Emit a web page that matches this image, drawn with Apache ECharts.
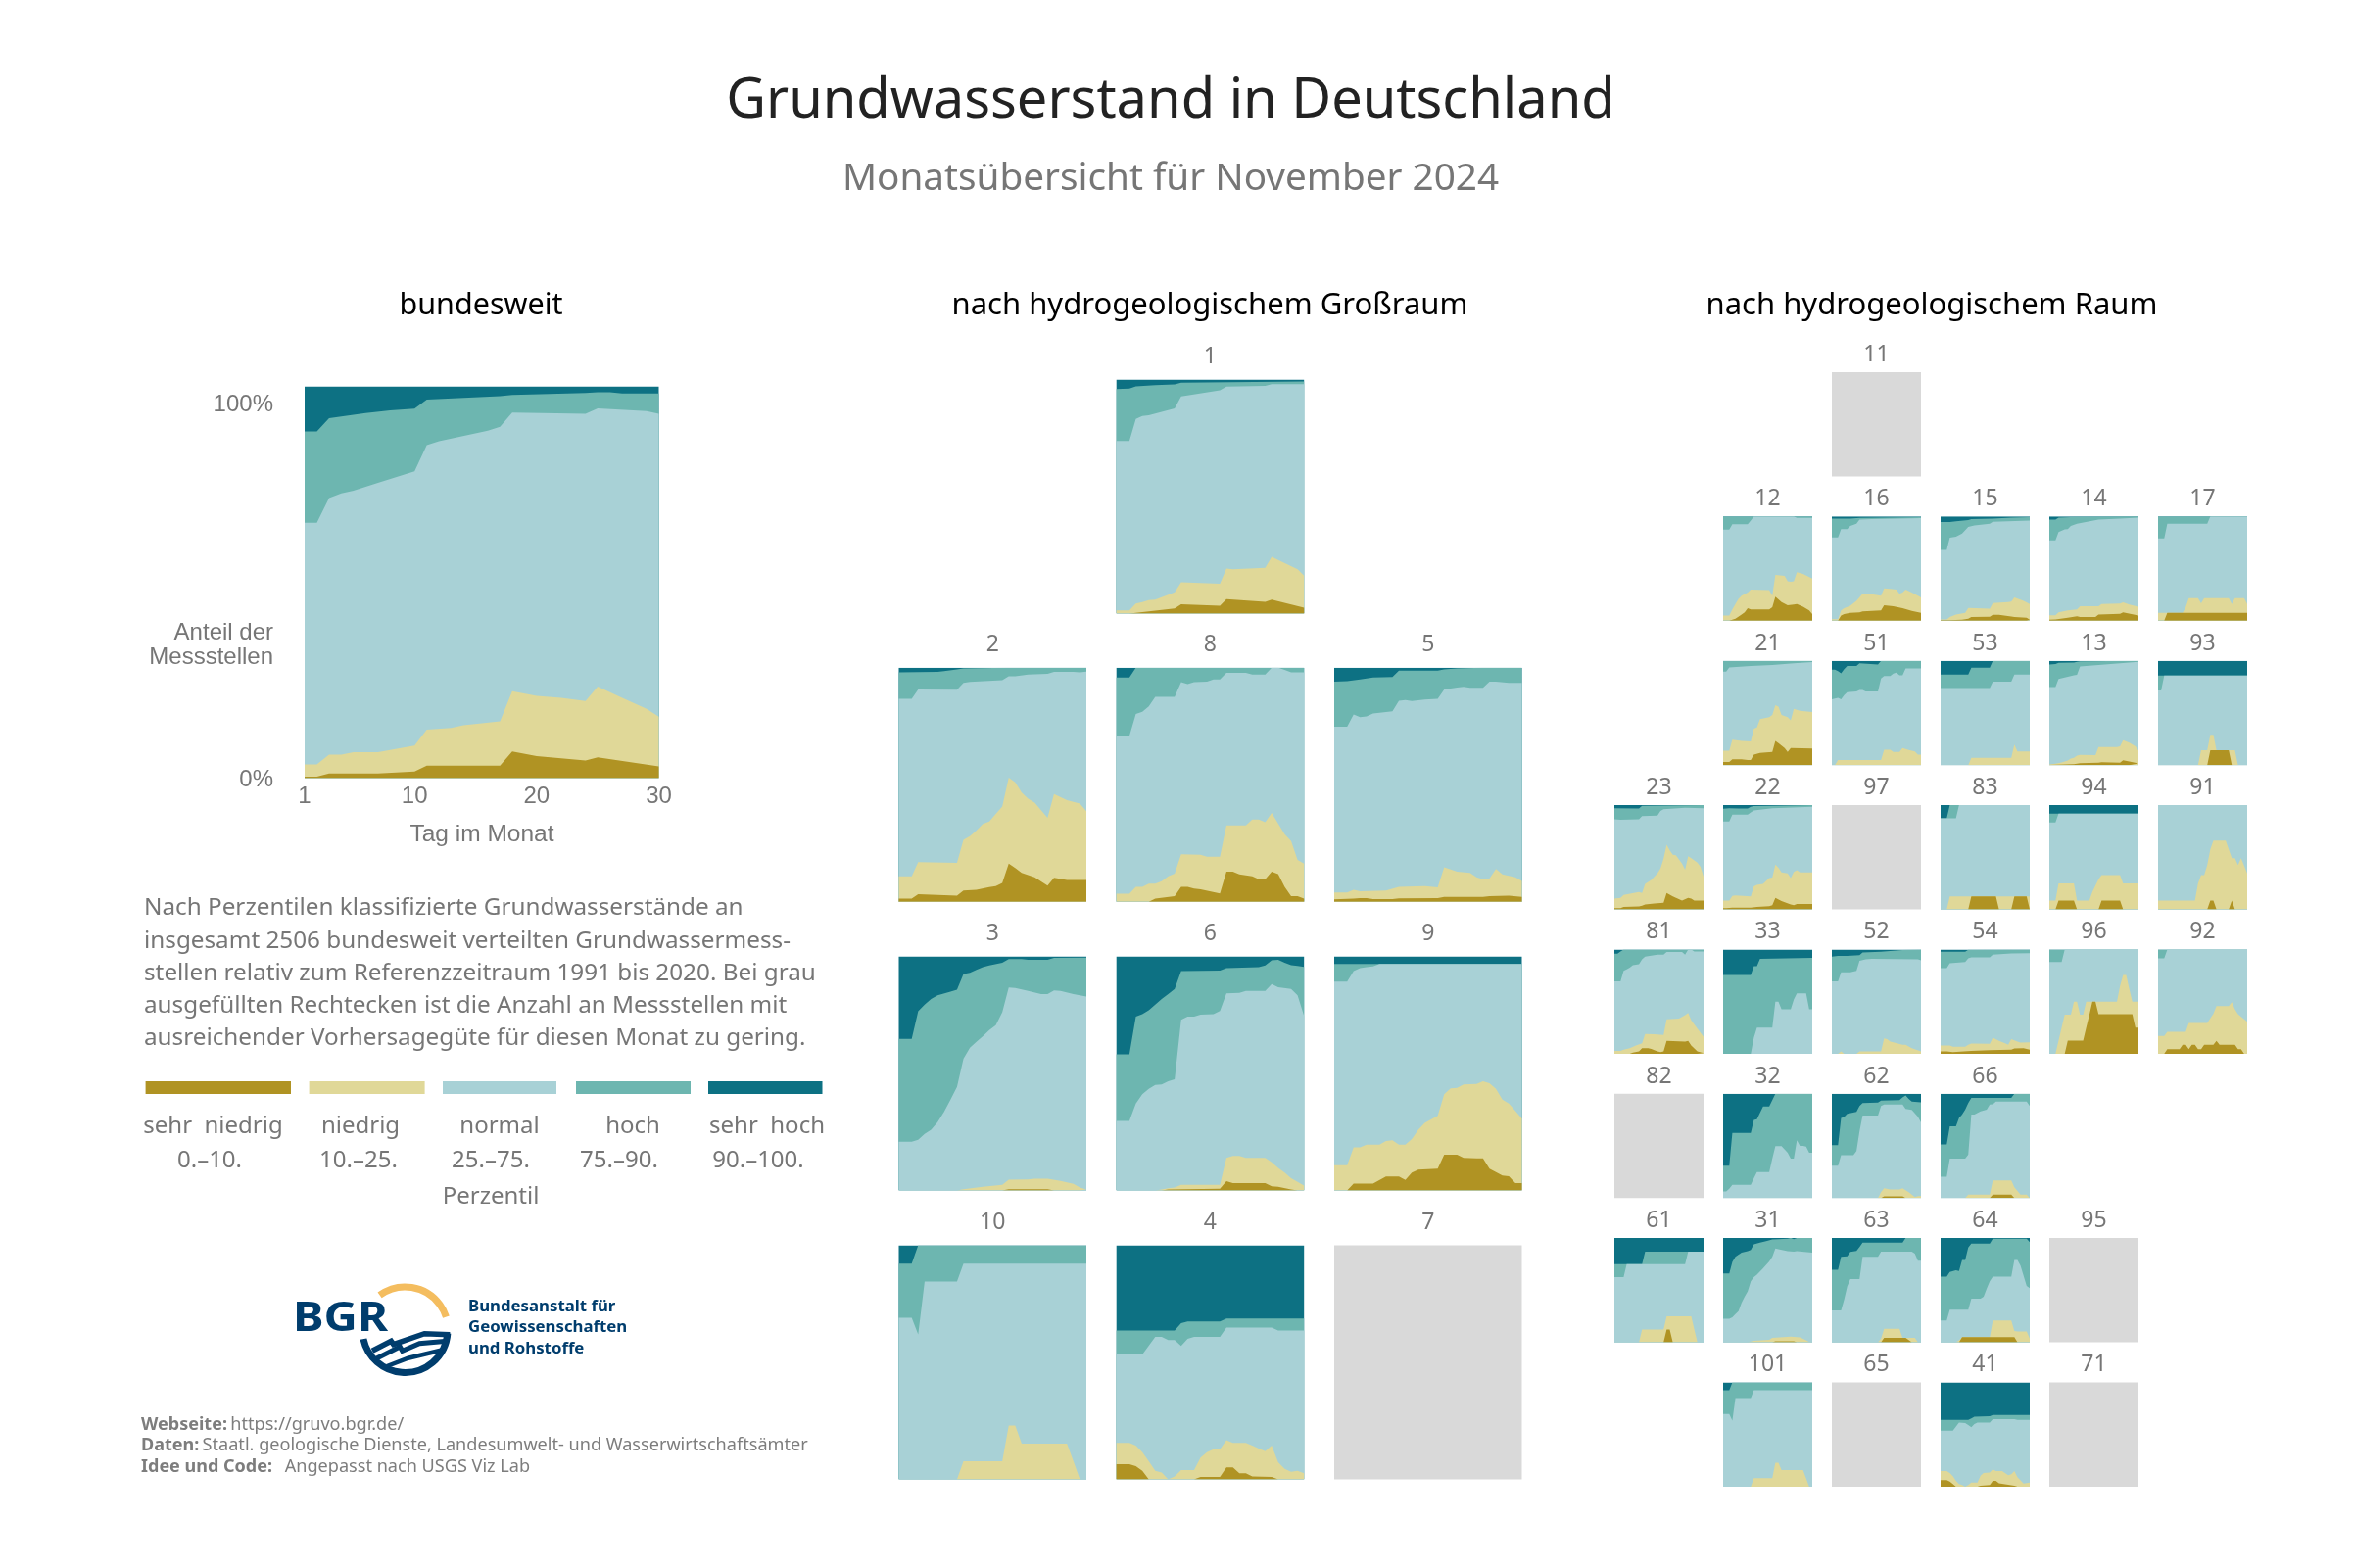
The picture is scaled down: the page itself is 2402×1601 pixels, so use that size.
<!DOCTYPE html>
<html lang="de"><head><meta charset="utf-8"><title>Grundwasserstand in Deutschland</title>
<script src="https://cdn.jsdelivr.net/npm/echarts@6/dist/echarts.min.js"></script>
<style>html,body{margin:0;padding:0;background:#fff}#c{width:2402px;height:1601px}</style></head>
<body><div id="c"></div>
<script>
// Boundaries between the percentile classes as [day, share %, day, share %, ...]
// sn = top of "sehr niedrig", ni = top of "niedrig", no = top of "normal", ho = top of "hoch"
const classNames=['sehr hoch','hoch','normal','niedrig','sehr niedrig'];
const classColors=['#0d7183','#6db6b0','#a8d1d6','#e0d898','#b09323'];
const ZERO=[1,0,30,0], FULL=[1,100,30,100];

const de_sn=[1,.4,2,.4,3,1.2,7,1.2,10,1.7,11,3.2,17,3.2,18,6.8,20,5.6,24,4.5,25,5.3,30,3];
const de_ni=[1,3.5,2,3.5,3,6,4,6,5,6.6,7,6.6,10,8.3,11,12.4,13,12.8,14,13.5,17,14.5,18,22.2,20,21,22,20.5,24,19.7,25,23.4,27,20.5,29,17.7,30,15.7];
const de_no=[1,65.2,2,65.2,3,71.5,4,72.7,5,73.4,7,75.4,10,78.3,11,85,12,86,16,88.7,17,89.7,18,93.3,24,93,25,94.4,29,93.7,30,93];
const de_ho=[1,88.5,2,88.5,3,91.9,4,92.3,6,93.2,8,93.9,10,94.3,11,96.6,17,97.5,18,97.8,24,98.3,25,98.5,26,98.5,27,98.2,30,98.2];

const g1_sn=[1,0,3,0,10,2.2,11,4,17,3.4,18,6.2,24,5.1,25,6,30,2.6];
const g1_ni=[1,1.4,3,1.4,4,4.3,5,5,6,5.8,7,6,10,9.1,11,13.4,17,12.8,18,19.3,19,19,24,19.6,25,24.3,26,23,29,19,30,16.3];
const g1_no=[1,73.8,3,73.8,4,83.2,5,84.5,6,84.8,10,87.7,11,92.8,17,95.4,18,97,24,97.3,25,98.1,30,98.1];
const g1_ho=[1,96,3,96.2,4,97.1,7,97.6,10,97.9,11,98.7,30,99.2];

const g2_sn=[1,1.3,3,1.3,4,3.2,10,2.6,11,4.8,13,5.1,15,6.3,16,6.7,17,8,18,16.3,19,14.4,20,12.3,22,10.4,24,6.9,25,10.2,27,9.3,30,9.3];
const g2_ni=[1,10.9,3,10.9,4,16.9,10,16.6,11,26.4,12,28,13,30.4,14,33.2,15,34.3,16,37.5,17,40.7,18,53,19,51,20,46.6,21,44,22,42.3,24,35.9,25,46,27,43.4,29,41.9,30,38.7];
const g2_no=[1,86.7,3,86.7,4,90.7,10,90.6,11,93.5,12,93.9,17,94.6,18,96.3,19,96.3,21,97,24,97.4,25,98.2,28,98.2,29,98,30,98.3];
const g2_ho=[1,98,7,98.2,8,98.5,10,99.2,11,99.7,18,100,30,100];

const g8_sn=[1,0,6,0,7,1.3,10,2.4,11,6.4,12,6.4,13,5.6,14,5.3,17,3.5,18,12.8,19,12.8,20,11.7,22,10.9,23,9.6,24,9.6,25,12.8,26,11.8,27,6.4,28,2.4,29,2.4,30,1.3];
const g8_ni=[1,3.4,3,3.4,4,6.4,5,6.4,6,7.7,7,7.7,8,8.8,9,10.9,10,12,11,20.3,14,20.1,15,19.2,17,19.2,18,32.6,21,32.6,22,35.1,23,35.1,24,34,25,37.9,27,28.8,28,25.9,29,17.9,30,16.3];
const g8_no=[1,70.8,3,70.8,4,80.2,5,81.2,6,83.5,7,87.5,10,87.5,11,93.8,12,93,13,93.8,15,94,16,95,17,95,18,97.8,21,97.8,22,97.1,24,97.1,25,100,26,100,27,99,28,98,30,98];
const g8_ho=[1,95.8,3,95.8,4,100,30,100];

const g5_sn=[1,1,4,1.3,5,1.6,6,1.6,7,1.1,10,1.1,11,1.4,17,1.6,18,2.1,24,2.1,25,2.4,28,2.6,30,2.1];
const g5_ni=[1,4,3,4,4,5.1,5,4.5,9,4.8,11,6.4,15,6.7,17,6.1,18,14.7,20,12.8,22,12.3,23,10.4,24,9.6,25,9.9,26,14,27,11.7,29,10.4,30,8.9];
const g5_no=[1,74.8,3,74.8,4,80,5,78.8,6,79.2,7,80.4,9,81,10,81.4,11,85.9,12,86.2,13,85.8,15,86.4,17,86.7,18,90.7,20,91.5,21,91.8,22,91.4,24,91.4,25,94,26,94,28,93.5,30,93.5];
const g5_ho=[1,94,3,94.2,5,95,7,95.8,10,96,11,98.7,17,98.7,18,99.2,20,99.7,24,100,30,100];

const g3_sn=[1,0,17,0,18,.6,24,.6,25,0,30,0];
const g3_ni=[1,0,10,0,11,.6,14,1.6,17,2.4,18,4.6,21,4.8,22,5.1,24,5.1,26,4.1,28,2.9,29,1.3,30,.5];
const g3_no=[1,20.9,3,20.9,4,21.7,5,24.2,6,26,7,29.2,8,33.6,9,38.8,10,44.3,11,56.3,12,61,13,63.5,14,65.9,15,68.6,16,70.7,17,76.2,18,86.8,19,86.5,21,85.3,23,83.9,24,83.9,25,85.5,26,85.3,28,83.9,30,82.9];
const g3_ho=[1,64.8,3,64.8,4,76.6,5,79.4,6,81.8,7,83.4,9,85,10,85.8,11,92.5,12,93,13,94.3,14,95.4,15,96.2,17,97.3,18,98.9,20,98.9,21,98.6,24,98.6,25,99.4,30,99.5];

const g6_sn=[1,0,8,0,9,.5,17,.8,18,4,19,3.2,24,3.2,25,1.8,26,1.6,28,.5,29,0,30,0];
const g6_ni=[1,0,7,0,8,.5,9,1,10,1.3,11,2.4,17,2.4,18,14,19,14.8,20,14.8,21,14,24,14,25,12.1,26,9.7,27,7.7,28,5.3,29,3.7,30,2.1];
const g6_no=[1,29.7,3,29.7,4,37.2,5,41.1,6,43.5,7,45.1,8,45.3,9,46.7,10,47.5,11,73,12,74.3,13,74.3,14,75.1,16,75.4,17,76.7,18,84.2,20,84.5,21,85.3,24,85.3,25,88.2,26,86.9,28,86.1,29,83.4,30,74.6];
const g6_ho=[1,58.2,3,58.2,4,74.3,5,75.4,6,77,7,79.4,8,81.8,9,83.9,10,86.1,11,93.8,17,94,18,95,23,95.4,24,96.2,25,98.4,26,98.6,27,97.3,28,96.3,29,96,30,95.5];

const g9_sn=[1,0,3,0,4,3,7,3,9,6,11,6,12,4.5,13,7.7,14,8.9,17,9.3,18,15.3,20,15.3,21,14,23,13.7,24,13.7,25,9.3,27,6.4,28,6.1,29,3.2,30,3.2];
const g9_ni=[1,10.8,3,10.8,4,18.5,5,18.5,6,19.6,8,19.6,9,21.2,10,21.5,11,19.6,12,19.6,13,22,14,26,15,28.9,17,31.9,18,41.1,19,43.7,20,43.9,21,45.3,23,45.5,24,46.7,25,45.9,26,43.5,27,38.8,28,37.2,29,34,30,30.8];
const g9_no=[1,89.3,3,89.3,4,93.8,5,95,6,95.4,7,95.8,8,96.8,30,96.8];
const g9_ho=[1,96.8,30,96.8];

const g10_ni=[1,0,10,0,11,7.7,17,7.7,18,23,19,23,20,15.3,27,15.3,28,7.7,29,0,30,0];
const g10_no=[1,69,3,69,4,61.9,5,84.5,10,84.5,11,92.2,30,92.2];
const g10_ho=[1,92.2,3,92.2,4,100,30,100];

const g4_sn=[1,6.5,3,6.5,4,5.6,5,3.7,6,0,13,0,14,1,17,1,18,5.1,19,5.1,20,2.6,21,2.6,22,1.3,25,1,26,0,30,0];
const g4_ni=[1,15.6,3,15.6,4,14.4,5,11.6,6,7.7,7,3.7,8,2.9,9,0,10,1.3,11,4,13,4,14,9.3,15,11.6,16,12.9,17,12.9,18,16.7,19,15.6,21,15.6,22,14.4,23,13.2,24,12,25,14.4,26,7.3,27,4.5,28,3.2,29,3.7,30,2.6];
const g4_no=[1,53.3,5,53.3,7,60.9,8,60.9,9,59.5,10,59.5,11,57,12,60,13,60.9,17,60.9,18,64.9,25,64.9,26,63.6,30,63.6];
const g4_ho=[1,63.6,10,63.6,11,66.7,12,67.5,17,67.5,18,68.7,30,68.7];

const r12_sn=[1,0,3,0,4,1,5,2,7,6,8,8,9,12,10,11,16,11,17,13,18,23,20,18,22,15,24,15.5,25,16,27,13.5,29,10,30,6.5];
const r12_ni=[1,5,3,5,4,11,5,16,6,21,7,24,9,27,10,30,16,29.5,17,24,18,44,21,43,22,38,23,37.5,24,38,25,46.5,27,45,30,40.5];
const r12_no=[1,87.5,3,87.5,4,92.5,9,92.5,10,96,11,100,24,100,25,98.7,30,98.7];
const r16_sn=[1,0,3,0,4,5,5,6.5,7,7.5,10,8,11,9,17,10,18,15,21,14,24,12,27,9.5,30,7.5];
const r16_ni=[1,1.5,3,1.5,4,10,5,12,7,14.5,9,19,11,26,14,25.5,17,24,18,31,20,30.5,22,30,23,26,24,27,25,30,27,27,29,24,30,22.5];
const r16_no=[1,80,3,80,4,88,6,88,7,91,9,93,10,97,14,97.5,30,98.5];
const r16_ho=[1,98,7,98,10,98.7,30,99.4];
const r15_sn=[1,.6,4,.6,8,1,10,2,11,3.5,17,3.8,18,5.7,20,5.7,24,4,25,3.5,29,2.8,30,1];
const r15_ni=[1,1.3,3,1.3,4,3.5,6,6,9,7.5,10,12.3,17,11.6,18,17,23,18,24,18.5,25,22.3,28,19,30,16];
const r15_no=[1,68,3,68,4,79.6,6,80.5,8,83.6,10,90,12,91.5,17,93,18,95,30,96];
const r15_ho=[1,94.7,4,94.7,6,95.5,10,96.5,11,97.5,18,98,24,99,30,99.4];
const r14_sn=[1,1,3,1.3,7,3,10,4.4,11,3.5,16,3.5,17,6,24,6.6,25,8,30,5];
const r14_ni=[1,5.3,3,5.3,4,8,7,10,10,11,11,14,17,14,18,16,24,16.5,25,17.6,27,15.5,30,13.5];
const r14_no=[1,77,3,77,4,85,6,87.7,7,88,8,91,10,93,17,97,24,98,30,99];
const r14_ho=[1,97,3,97,4,99,10,99.7,30,100];
const r17_sn=[1,0,3,0,4,7.5,30,7.5];
const r17_ni=[1,7.5,9,7.5,10,13,11,21.7,14,21.7,15,16.7,16,21.7,24,21.7,25,16,26,21.7,29,21.7,30,16];
const r17_no=[1,79,3,79,4,93,17,93,18,100,30,100];
const r21_sn=[1,3,3,3,4,5.7,7,5.7,9,5,10,5,11,10,13,11.7,17,12.6,18,23.3,19,21,21,16.4,22,12.6,23,16.4,30,15.8];
const r21_ni=[1,13.9,3,13.9,4,24.3,7,23.3,10,22.7,11,35,12,36,13,44,16,46,17,48,18,57.4,19,56,20,48,22,46,23,43,24,54,26,52,30,51];
const r21_no=[1,89.6,2,89.6,3,93.7,10,95,17,96,24,97.5,30,98.7];
const r51_ni=[1,0,2,0,3,5,17,5,18,14.8,20,14.8,21,12.6,23,12.6,24,16.4,25,15.5,26,14.5,28,13.2,29,10,30,10];
const r51_no=[1,63,3,64.5,4,63,5,67,6,70,9,70.5,10,72,11,72,12,70.5,16,70.5,17,83,18,85.5,20,85.5,21,87.7,22,88.6,23,86,24,86,25,92.7,30,92.7];
const r51_ho=[1,91.5,2,91.5,3,90,4,88,5,92,6,95,9,95,10,97.5,16,96.5,17,100,30,100];
const r53_ni=[1,0,10,0,11,7,24,7,25,19.6,26,13,30,13];
const r53_no=[1,73.8,17,73.8,18,80,24,80,25,86.7,30,86.7];
const r53_ho=[1,86.7,10,86.7,11,93.4,17,93.4,18,100,30,100];
const r13_sn=[1,.3,9,1,10,1.3,11,1.9,17,2.2,18,2.8,24,2.2,25,4.7,27,3.5,30,1.6];
const r13_ni=[1,.6,3,1.3,5,2.5,7,4.5,8,6.3,9,7,10,9,11,9.8,16,9.5,17,17.3,23,17.3,24,18,25,24,27,21.5,29,18,30,14];
const r13_no=[1,74.8,3,74.8,4,82.6,9,86,10,86.5,11,94.6,17,96,24,97.5,30,99];
const r13_ho=[1,96.5,3,97,4,98,9,98.3,10,99,11,99.4,30,100];
const r93_sn=[1,0,17,0,18,14.2,24,14.2,25,0,30,0];
const r93_ni=[1,0,14,0,15,14.2,17,14.2,18,29,19,29,20,14.2,26,14.2,27,0,30,0];
const r93_no=[1,71.6,2,71.6,3,85.8,30,85.8];
const r93_ho=[1,85.8,30,85.8];
const r23_sn=[1,1.3,3,1.3,4,2.5,9,2.8,10,3.5,11,4.7,14,5.7,17,6.3,18,15.7,20,12.6,23,8.5,25,11,26,10.4,27,8.5,30,8.5];
const r23_ni=[1,10.4,3,11,4,14,9,16.7,10,15.7,11,24.5,13,28.3,15,34.6,16,39.3,17,48.7,18,62,19,56.6,20,52.5,21,52,23,44,24,38,25,51,26,49,28,45,29,41,30,31.4];
const r23_no=[1,86.5,3,86,9,86.5,10,89.6,15,90,16,94.3,17,96,24,97.5,30,97];
const r23_ho=[1,97,9,96.7,10,99.3,22,99.7,30,100];
const r22_sn=[1,1.3,2,1.3,4,1.6,10,1.6,12,2.5,16,3.1,17,4,18,11,20,8,23,4.7,24,4,25,5.3,30,5.3];
const r22_ni=[1,8.5,3,8.5,4,13,5,13.5,10,12.6,11,22,12,23.6,14,24.5,16,30,17,30.5,18,43,19,40,20,35.5,22,34.6,23,30,24,36,25,37.7,26,35.5,30,35.5];
const r22_no=[1,84.3,3,84.3,4,91,9,91,10,93,11,95,17,97,30,98.5];
const r22_ho=[1,96.5,3,97,6,96.7,9,96.7,10,98.5,11,99,30,100];
const r83_sn=[1,0,10,0,11,12.6,19,12.6,20,0,24,0,25,12.6,29,12.6,30,0];
const r83_ni=[1,0,3,0,4,12.6,30,12.6];
const r83_no=[1,87.4,6,87.4,7,100,30,100];
const r83_ho=[1,87.4,3,87.4,4,100,30,100];
const r94_sn=[1,0,3,0,4,8.5,9,8.5,10,0,17,0,18,8.5,24,8.5,25,0,30,0];
const r94_ni=[1,8.5,3,8.5,4,25,9,25,10,8.5,14,8.5,15,16.7,17,29,18,33,24,33,25,25,30,25];
const r94_no=[1,83.3,3,83.3,4,91.8,30,91.8];
const r94_ho=[1,91.8,30,91.8];
const r91_sn=[1,0,17,0,18,8.5,19,8.5,20,0,24,0,25,8.5,26,0,30,0];
const r91_ni=[1,8.5,13,8.5,14,25,15,33,16,33,17,42.5,18,57.5,19,66,23,66,24,57.5,25,49,26,49,27,42.5,28,49,30,34.6];
const r81_sn=[1,0,6,0,7,1,9,2.2,10,5.4,12,5.4,13,4.7,15,2.2,16,1.6,17,2.2,18,12.3,24,11.7,25,12.3,26,7.9,28,2.2,30,.6];
const r81_ni=[1,2.8,3,2.8,4,3.8,6,5.4,8,7.9,10,10,11,19,14,18.6,17,18,18,33,22,33.7,24,37,25,39,26,32,28,24,30,16.4];
const r81_no=[1,69.4,3,69.4,4,79.5,5,81,6,82.6,7,85,9,85.8,10,90.5,11,93,15,95,17,95,18,97.5,23,97.5,24,95,25,100,26,100,27,98,30,98];
const r81_ho=[1,96,2,96,3,98,4,100,30,100];
const r33_no=[1,0,10,0,11,15.5,12,25,17,25,18,50,19,50,20,42.6,23,42.6,24,52,25,58,28,58,29,42.6,30,42.6];
const r33_ho=[1,75.4,10,75.4,11,84,12,84,13,91,30,92];
const r52_ni=[1,0,3,0,4,2.2,5,0,9,0,10,2.2,17,2.2,18,14.8,19,13.9,20,11.7,21,11,24,8.5,25,8.5,27,5.4,30,2.2];
const r52_no=[1,69.4,3,69.4,4,78,7,78,9,79.5,10,89,12,90.5,14,91,29,90.5,30,89.6];
const r52_ho=[1,93,3,93.7,6,93.7,10,94.6,11,97,17,97.8,24,99.4,30,100];
const r54_sn=[1,2.2,3,2.2,5,1.6,11,2.8,17,3.5,24,3.8,25,5,28,5.4,30,3.8];
const r54_ni=[1,7.9,4,7.9,5,6.6,9,6.6,10,8.5,11,9.8,17,9.5,18,15.5,20,12.3,22,10,23,8.5,24,14,26,11.7,27,10.7,30,11];
const r54_no=[1,82,3,82,4,86.7,9,88,10,91.5,11,92.4,17,92.4,18,95,24,96.2,30,96.5];
const r54_ho=[1,97.8,9,97.8,10,99.7,30,100];
const r96_sn=[1,0,6,0,7,12.6,12,12.6,13,25,14,37,15,50,16,50,17,37.9,28,37.9,29,25,30,25];
const r96_ni=[1,0,3,0,4,12.6,5,25,6,37.5,8,37.5,9,50,10,50,11,37.5,12,37.5,13,50,23,50,24,65,25,75.4,26,75.4,27,62,28,50,30,50];
const r96_no=[1,88,5,88,6,100,30,100];
const r92_sn=[1,0,3,0,4,4.4,8,4.4,9,8.5,10,8.5,11,4.4,12,8.5,13,8.5,14,4.4,15,4.4,16,8.5,19,8.5,20,12.3,21,8.5,26,8.5,27,4.4,28,4.4,29,0,30,0];
const r92_ni=[1,17,3,17,4,21,10,21,11,29.6,17,29.6,18,34,19,38.5,20,45.7,24,45.7,25,49.5,26,42.6,27,38,30,30.6];
const r92_no=[1,91.5,3,91.5,4,100,30,100];
const r32_no=[1,6.3,2,6.3,3,9,4,12.6,10,12.6,11,19,12,25,16,25,17,37.9,18,49.8,20,49.8,22,43.5,23,37.9,24,37.9,25,55.5,26,50,27,50,28,49.4,29,43.5,30,43.5];
const r32_ho=[1,31,3,31,4,62.5,10,62.5,11,75,12,75.7,13,81.7,14,87.7,16,87.7,17,94,18,100,30,100];
const r62_sn=[1,0,17,0,18,1.6,24,1.6,25,0,30,0];
const r62_ni=[1,0,16,0,17,5.7,18,9.5,20,8.2,23,8.2,24,9.5,26,5.7,28,1,29,1.9,30,1.9];
const r62_no=[1,31,3,31,4,41,8,41,9,45,10,64,11,79,16,79,17,88.3,18,89.6,24,89.6,25,85.5,27,84.5,29,78,30,72.5];
const r62_ho=[1,50.8,3,50.8,4,76.7,5,77.6,6,80.8,9,82.6,10,88.3,11,91,16,91.5,17,93.4,23,94,24,96.5,25,98.4,26,95,27,92.4,30,91.8];
const r66_sn=[1,0,17,0,18,3.2,24,3.2,25,0,30,0];
const r66_ni=[1,0,9,0,10,3.2,17,3.2,18,17,24,17,25,10.4,27,3.2,29,3.2,30,0];
const r66_no=[1,20.5,3,20.5,4,37.9,9,37.9,10,41.6,11,80,12,80,14,83,16,84.8,17,89.6,18,89.9,19,92.4,29,92.4,30,88.3];
const r66_ho=[1,51.4,3,51.4,4,68.8,6,68.8,7,76.7,8,80,9,84.8,10,91,11,96,24,96,25,100,30,100];
const r61_sn=[1,0,17,0,18,12.3,19,12.3,20,0,30,0];
const r61_ni=[1,0,9,0,10,12.3,17,12.3,18,25,26,25,27,12.3,28,0,30,0];
const r61_no=[1,62.6,4,62.6,5,75,24,75,25,87,30,87];
const r61_ho=[1,75,10,75,11,87,30,87];
const r31_sn=[1,0,17,0,18,1,24,1,25,0,30,0];
const r31_ni=[1,0,9,0,11,1.6,16,2.5,17,4.4,23,5.4,26,4.7,28,1.9,29,.3,30,0];
const r31_no=[1,22.6,3,22.6,4,24,5,27,6,30,7,38,8,43.7,9,49,10,58.5,11,62.6,12,65,14,71,16,77.5,17,82,18,90,19,89.4,22,87.5,24,87,25,87.5,30,86];
const r31_ho=[1,66,3,66,4,77,5,82,7,86,9,87.5,10,88.5,11,94,13,95.6,15,97,17,98.7,19,99,22,99.4,23,100,24,99,25,100,30,100];
const r63_sn=[1,0,17,0,18,4.4,25,4.4,27,0,30,0];
const r63_ni=[1,0,16,0,17,3.5,18,13,23,13,24,4.4,28,4.4,29,0,30,0];
const r63_no=[1,30.5,4,30.5,5,41,6,53.7,7,60.7,10,60.7,11,82,16,82,17,87,27,87,28,85,29,78.3,30,78.3];
const r63_ho=[1,69.5,3,69.5,4,82,6,82.6,7,86.8,9,87.7,10,91.5,11,95.6,24,95.6,25,100,30,100];
const r64_sn=[1,0,7,0,8,5,25,5,26,0,30,0];
const r64_ni=[1,0,6,0,7,1.9,8,5,17,5,18,21,24,21,25,11,26,10.4,29,10.4,30,3.5];
const r64_no=[1,21,3,21,4,31.4,10,31.4,11,41.8,14,41.8,15,43.7,16,51.4,17,58.6,18,63,24,63,25,79,26,79,27,73.6,29,54,30,52];
const r64_ho=[1,63,3,63,4,67.5,6,69,7,68.5,8,79,9,79,10,91,11,94.6,17,94.6,18,99.4,29,99.4,30,96];
const r101_ni=[1,0,10,0,11,8.2,17,8.2,18,23,19,23,20,15.8,27,15.8,29,0,30,0];
const r101_no=[1,69.7,3,69.7,4,63.4,5,84.9,10,84.9,11,92.4,30,92.4];
const r101_ho=[1,92.4,3,92.4,4,100,30,100];
const r41_sn=[1,6.3,3,6.3,4,5,5,2.5,6,0,13,0,14,1,17,1.6,18,5.7,19,5.7,20,3.2,23,1.9,25,1,26,0,30,0];
const r41_ni=[1,15,3,15,4,13,5,10,6,5.7,7,2.5,8,1.6,9,0,10,1.6,11,4,13,4,14,10.4,15,13,17,13.6,18,16.7,19,15,21,15,23,11,24,12,25,15,26,9,28,3,30,4];
const r41_no=[1,53.6,5,53.6,7,61.5,9,61,10,59,11,57,12,60,13,61.5,17,61.5,18,64.7,25,64.7,26,64,30,64];
const r41_ho=[1,64,10,64,11,65.5,12,67,17,67.5,18,68.8,30,68.8];

// label, column, row, boundaries (none = too few stations, grey tile)
const bigPanels=[
 ['1',1,0,g1_sn,g1_ni,g1_no,g1_ho],
 ['2',0,1,g2_sn,g2_ni,g2_no,g2_ho],['8',1,1,g8_sn,g8_ni,g8_no,g8_ho],['5',2,1,g5_sn,g5_ni,g5_no,g5_ho],
 ['3',0,2,g3_sn,g3_ni,g3_no,g3_ho],['6',1,2,g6_sn,g6_ni,g6_no,g6_ho],['9',2,2,g9_sn,g9_ni,g9_no,g9_ho],
 ['10',0,3,ZERO,g10_ni,g10_no,g10_ho],['4',1,3,g4_sn,g4_ni,g4_no,g4_ho],['7',2,3,null]];
const smallPanels=[
 ['11',2,0,null],
 ['12',1,1,r12_sn,r12_ni,r12_no,FULL],['16',2,1,r16_sn,r16_ni,r16_no,r16_ho],['15',3,1,r15_sn,r15_ni,r15_no,r15_ho],['14',4,1,r14_sn,r14_ni,r14_no,r14_ho],['17',5,1,r17_sn,r17_ni,r17_no,FULL],
 ['21',1,2,r21_sn,r21_ni,r21_no,FULL],['51',2,2,ZERO,r51_ni,r51_no,r51_ho],['53',3,2,ZERO,r53_ni,r53_no,r53_ho],['13',4,2,r13_sn,r13_ni,r13_no,r13_ho],['93',5,2,r93_sn,r93_ni,r93_no,r93_ho],
 ['23',0,3,r23_sn,r23_ni,r23_no,r23_ho],['22',1,3,r22_sn,r22_ni,r22_no,r22_ho],['97',2,3,null],['83',3,3,r83_sn,r83_ni,r83_no,r83_ho],['94',4,3,r94_sn,r94_ni,r94_no,r94_ho],['91',5,3,r91_sn,r91_ni,FULL,FULL],
 ['81',0,4,r81_sn,r81_ni,r81_no,r81_ho],['33',1,4,ZERO,ZERO,r33_no,r33_ho],['52',2,4,ZERO,r52_ni,r52_no,r52_ho],['54',3,4,r54_sn,r54_ni,r54_no,r54_ho],['96',4,4,r96_sn,r96_ni,r96_no,FULL],['92',5,4,r92_sn,r92_ni,r92_no,FULL],
 ['82',0,5,null],['32',1,5,ZERO,ZERO,r32_no,r32_ho],['62',2,5,r62_sn,r62_ni,r62_no,r62_ho],['66',3,5,r66_sn,r66_ni,r66_no,r66_ho],
 ['61',0,6,r61_sn,r61_ni,r61_no,r61_ho],['31',1,6,r31_sn,r31_ni,r31_no,r31_ho],['63',2,6,r63_sn,r63_ni,r63_no,r63_ho],['64',3,6,r64_sn,r64_ni,r64_no,r64_ho],['95',4,6,null],
 ['101',1,7,ZERO,r101_ni,r101_no,r101_ho],['65',2,7,null],['41',3,7,r41_sn,r41_ni,r41_no,r41_ho],['71',4,7,null]];

const xTicks=[1,10,20,30];

const GREY='#767676', NOTO='"Noto Sans"', ARIAL='"Liberation Sans"';
const pairs=a=>{const o=[];for(let i=0;i<a.length;i+=2)o.push([a[i],a[i+1]]);return o;};
const grids=[],xAxes=[],yAxes=[],series=[],gfx=[];
function txt(text,x,y,size,fill,opt){opt=opt||{};gfx.push({type:'text',silent:true,style:{text,x,y,fill,font:`${opt.weight||'normal'} ${size}px ${opt.family||NOTO}`,align:opt.align||'center',verticalAlign:'middle'}});}
function addPanel(x,y,w,h,label,b,labelGap,extra){
 const i=grids.length;
 grids.push({left:x,top:y,width:w,height:h,containLabel:false,show:!b,backgroundColor:'#d9d9d9',borderWidth:0});
 xAxes.push(Object.assign({gridIndex:i,type:'value',min:1,max:30,show:false},extra||{}));
 yAxes.push({gridIndex:i,type:'value',min:0,max:100,show:false});
 if(label)txt(label,x+w/2,y-labelGap,23,GREY);
 if(!b)return;
 const layers=[FULL,b[3],b[2],b[1],b[0]];
 layers.forEach((d,k)=>series.push({name:classNames[k],type:'line',xAxisIndex:i,yAxisIndex:i,data:pairs(d),showSymbol:false,symbol:'none',silent:true,
   lineStyle:{width:0},areaStyle:{color:classColors[k],opacity:1},itemStyle:{color:classColors[k]},z:2+k}));
}
addPanel(311,394.5,361.5,400,null,[de_sn,de_ni,de_no,de_ho],0,{show:true,axisLine:{show:false},axisTick:{show:false},splitLine:{show:false},
  axisLabel:{customValues:xTicks,color:GREY,fontFamily:ARIAL,fontSize:24,margin:7,showMinLabel:true,showMaxLabel:true,hideOverlap:false}});
const bigX=[917.5,1139.7,1362],bigY=[387.6,681.7,976.6,1271.5];
bigPanels.forEach(p=>addPanel(bigX[p[1]],bigY[p[2]],191.5,239,p[0],p[3]?p.slice(3):null,23));
const smX=[1648,1759,1870,1981,2092,2203],smY=[380,527.35,674.7,822.05,969.4,1116.75,1264.1,1411.45];
smallPanels.forEach(p=>addPanel(smX[p[1]],smY[p[2]],91,106.5,p[0],p[3]?p.slice(3):null,17.5));

// headings
txt('Grundwasserstand in Deutschland',1195,104.5,56,'#222222');
txt('Monatsübersicht für November 2024',1195,183,38.7,GREY);
txt('bundesweit',491,312.5,30.5,'#000');
txt('nach hydrogeologischem Großraum',1235,312.5,31,'#000');
txt('nach hydrogeologischem Raum',1972,312.5,31,'#000');
// national axis text
txt('100%',279,413.5,24,GREY,{family:ARIAL,align:'right'});
txt('0%',279,796.5,24,GREY,{family:ARIAL,align:'right'});
txt('Anteil der',279,646,24,GREY,{family:ARIAL,align:'right'});
txt('Messstellen',279,671,24,GREY,{family:ARIAL,align:'right'});
txt('Tag im Monat',492,852,24.5,GREY,{family:ARIAL});
// paragraph
['Nach Perzentilen klassifizierte Grundwasserstände an','insgesamt 2506 bundesweit verteilten Grundwassermess-','stellen relativ zum Referenzzeitraum 1991 bis 2020. Bei grau','ausgefüllten Rechtecken ist die Anzahl an Messstellen mit','ausreichender Vorhersagegüte für diesen Monat zu gering.'].forEach((t,i)=>txt(t,147,927.5+i*33.2,24.28,GREY,{align:'left'}));
// legend
[[148.6,148.4,'#b09323','sehr  niedrig',217.5,'0.–10.',214],[315.6,118,'#e0d898','niedrig',368,'10.–25.',366],[452,116,'#a8d1d6','normal',510,'25.–75.',501],[588,117,'#6db6b0','hoch',646,'75.–90.',632],[723,116.5,'#0d7183','sehr  hoch',783,'90.–100.',774]].forEach(l=>{
 gfx.push({type:'rect',silent:true,shape:{x:l[0],y:1104,width:l[1],height:13},style:{fill:l[2]}});
 txt(l[3],l[4],1150,24,GREY);txt(l[5],l[6],1185,24,GREY);
});
txt('Perzentil',501,1222,24,GREY);
// logo
const NAVY='#003d6d';
gfx.push({type:'text',silent:true,x:299,y:1347,scaleX:1.13,style:{text:'BGR',fill:NAVY,font:`bold 42px ${NOTO}`,align:'left',verticalAlign:'middle'}});
gfx.push({type:'arc',silent:true,shape:{cx:413.5,cy:1358,r:44,startAngle:-2.2,endAngle:-0.31},style:{stroke:'#f4bd5f',fill:'none',lineWidth:7}});
gfx.push({type:'arc',silent:true,shape:{cx:413.5,cy:1358,r:43.5,startAngle:0.08,endAngle:2.93},style:{stroke:NAVY,fill:'none',lineWidth:7}});
gfx.push({type:'polyline',silent:true,shape:{points:[[380,1379.3],[399.3,1369.3],[401.7,1372.7],[433.3,1361.7],[459.3,1362.7]]},style:{stroke:NAVY,fill:'none',lineWidth:5.5}});
gfx.push({type:'polyline',silent:true,shape:{points:[[384,1387.3],[408.3,1375],[410.7,1379.3],[428.3,1371.7],[456.7,1369.3]]},style:{stroke:NAVY,fill:'none',lineWidth:5}});
gfx.push({type:'polyline',silent:true,shape:{points:[[395,1395],[416.7,1386.7],[453,1378]]},style:{stroke:NAVY,fill:'none',lineWidth:4.5}});
['Bundesanstalt für','Geowissenschaften','und Rohstoffe'].forEach((t,i)=>txt(t,478,1334+i*21.5,16.8,NAVY,{weight:'bold',align:'left'}));
// footer
[['Webseite:','https://gruvo.bgr.de/'],['Daten:','Staatl. geologische Dienste, Landesumwelt- und Wasserwirtschaftsämter'],['Idee und Code:','  Angepasst nach USGS Viz Lab']].forEach((r,i)=>{
 gfx.push({type:'text',silent:true,style:{x:144,y:1455+i*21.3,verticalAlign:'middle',align:'left',text:`{b|${r[0]}} {n|${r[1]}}`,fill:'#7d7d7d',rich:{b:{font:`bold 18px ${NOTO}`,fill:'#7d7d7d'},n:{font:`18.1px ${NOTO}`,fill:'#7d7d7d'}}}});
});

const chart=echarts.init(document.getElementById('c'),null,{renderer:'canvas'});
chart.setOption({animation:false,backgroundColor:'#fff',tooltip:{show:false},grid:grids,xAxis:xAxes,yAxis:yAxes,series,graphic:{elements:gfx}});
</script></body></html>
